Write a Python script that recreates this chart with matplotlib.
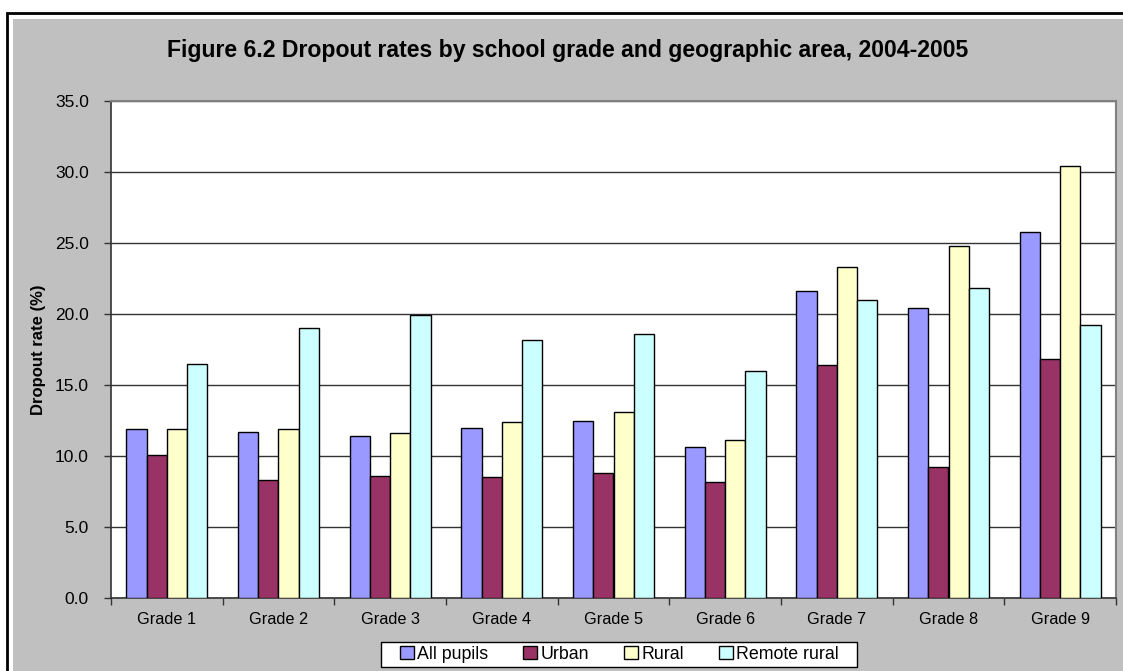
import numpy as np
import matplotlib
matplotlib.use("Agg")
import matplotlib.pyplot as plt
from matplotlib.patches import Rectangle

plt.rcParams['font.family'] = ['Liberation Sans', 'DejaVu Sans']

grades = ["Grade 1", "Grade 2", "Grade 3", "Grade 4", "Grade 5",
          "Grade 6", "Grade 7", "Grade 8", "Grade 9"]
all_pupils = [11.9, 11.7, 11.4, 12.0, 12.5, 10.6, 21.6, 20.4, 25.8]
urban = [10.1, 8.3, 8.6, 8.5, 8.8, 8.2, 16.4, 9.2, 16.8]
rural = [11.9, 11.9, 11.6, 12.4, 13.1, 11.1, 23.3, 24.8, 30.4]
remote_rural = [16.5, 19.0, 19.9, 18.2, 18.6, 16.0, 21.0, 21.8, 19.2]

series = [
    ("All pupils", all_pupils, '#9999ff'),
    ("Urban", urban, '#993366'),
    ("Rural", rural, '#ffffcc'),
    ("Remote rural", remote_rural, '#ccffff'),
]

W, H = 1123, 671
fig = plt.figure(figsize=(W / 100, H / 100), dpi=100, facecolor='white')

# chart area background and outer frame
fig.patches.append(Rectangle((13 / W, 0), 1, 1 - 19 / H, transform=fig.transFigure,
                             facecolor='#c0c0c0', edgecolor='none', zorder=-2))
fig.patches.append(Rectangle((7 / W, -0.1), 1.2, 1.1 - 13.5 / H, transform=fig.transFigure,
                             facecolor='none', edgecolor='black', linewidth=2, zorder=-1))

ax = fig.add_axes([111 / W, 1 - 598 / H, (1116 - 111) / W, (598 - 101) / H], zorder=2)
ax.set_facecolor('white')

x = np.arange(len(grades))
bw = 1 / (4 + 1.5)
for i, (name, vals, col) in enumerate(series):
    ax.bar(x + (i - 1.5) * bw, vals, width=bw, color=col, edgecolor='black',
           linewidth=1.0, label=name, zorder=3)

ax.set_xlim(-0.5, len(grades) - 0.5)
ax.set_ylim(0, 35)
ax.set_yticks(np.arange(0, 36, 5))
ax.set_yticklabels([f"{v:.1f}" for v in np.arange(0, 36, 5)], fontsize=12.5)
ax.yaxis.grid(True, color='#333333', linewidth=1.0, zorder=0)
ax.set_axisbelow(True)

ax.set_xticks(x)
ax.set_xticklabels(grades, fontsize=11.7)
ax.tick_params(axis='x', length=0, pad=10)
ax.set_xticks(np.arange(-0.5, len(grades), 1), minor=True)
ax.tick_params(axis='x', which='minor', length=5, width=1, color='#333333')
ax.tick_params(axis='y', length=5, width=1, color='#333333', pad=11)

for side in ['left', 'bottom']:
    ax.spines[side].set_color('#333333')
    ax.spines[side].set_linewidth(1.2)
for side in ['top', 'right']:
    ax.spines[side].set_color('#808080')
    ax.spines[side].set_linewidth(1.5)

ax.set_ylabel("Dropout rate (%)", fontsize=12, fontweight='bold')
ax.yaxis.set_label_coords(-65 / (1116 - 111), 0.5)

fig.text(568 / W, 1 - 57 / H, "Figure 6.2 Dropout rates by school grade and geographic area, 2004-2005",
         ha='center', va='baseline', fontsize=16.6, fontweight='bold')

# legend box drawn separately so the side padding can be wider than the vertical one
fig.patches.append(Rectangle((381 / W, 1 - 667 / H), (857 - 381) / W, 25 / H,
                             transform=fig.transFigure, facecolor='white',
                             edgecolor='black', linewidth=1.0, zorder=1))
leg = fig.legend(loc='center', bbox_to_anchor=(619.5 / W, 1 - 654.5 / H), ncol=4,
                 fontsize=12.8, frameon=False,
                 handlelength=0.78, handleheight=0.78, handletextpad=0.17,
                 columnspacing=2.0, borderpad=0, borderaxespad=0)
leg.set_zorder(3)

fig.savefig("out.png", dpi=100, facecolor='white')
